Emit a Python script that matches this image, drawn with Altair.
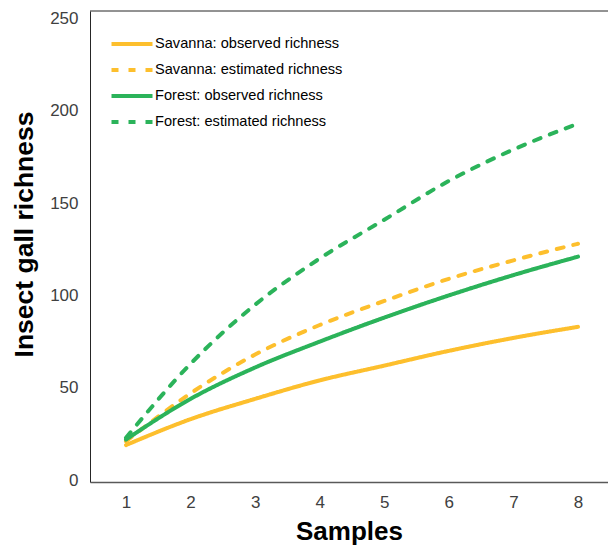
import altair as alt
import pandas as pd

samples = [1, 2, 3, 4, 5, 6, 7, 8]
savanna_observed = [19, 33, 44, 54, 62, 70, 77, 83]
savanna_estimated = [21, 47, 68, 84, 97, 109, 119, 128]
forest_observed = [22, 44, 61, 75, 88, 100, 111, 121]
forest_estimated = [23, 63, 95, 120, 141, 162, 179, 193]

series_names = [
    "Savanna: observed richness",
    "Savanna: estimated richness",
    "Forest: observed richness",
    "Forest: estimated richness",
]
series_values = [savanna_observed, savanna_estimated, forest_observed, forest_estimated]
series_colors = ["#FDBF2D", "#FDBF2D", "#2BB35A", "#2BB35A"]
series_dash = [[1, 0], [7, 10], [1, 0], [7, 10]]
y_ticks = [0, 50, 100, 150, 200, 250]
y_domain = [-1, 254]
x_domain = [0.4425, 8.4647]

rows = []
for name, vals in zip(series_names, series_values):
    for s, v in zip(samples, vals):
        rows.append({"series": name, "sample": s, "richness": v})
df = pd.DataFrame(rows)

FONT = "Liberation Sans"

legend_kwargs = dict(
    title=None,
    orient="none",
    legendX=30,
    legendY=21,
    symbolType="M-2.05,0L2.05,0",
    symbolSize=400,
    symbolStrokeWidth=4,
    labelFontSize=14.6,
    labelColor="#000000",
    labelFont=FONT,
    labelOffset=11,
    labelLimit=320,
    rowPadding=6,
    padding=0,
)

x_enc = alt.X(
    "sample:Q",
    scale=alt.Scale(domain=x_domain, nice=False, zero=False),
    axis=alt.Axis(
        values=samples,
        title="Samples",
        grid=False,
        ticks=False,
        domain=True,
        domainColor="#595959",
        domainWidth=1.5,
        labelFontSize=17,
        labelColor="#404040",
        labelPadding=12,
        titleFontSize=26,
        titleFontWeight="bold",
        titleColor="#000000",
        titleBaseline="alphabetic",
        titleY=57,
    ),
)

y_enc = alt.Y(
    "richness:Q",
    scale=alt.Scale(domain=y_domain, nice=False, zero=False),
    axis=alt.Axis(
        values=y_ticks,
        title="Insect gall richness",
        grid=False,
        ticks=False,
        domain=True,
        domainColor="#262626",
        domainWidth=1,
        labelFontSize=17,
        labelColor="#404040",
        labelPadding=12,
        titleFontSize=26.5,
        titleFontWeight="bold",
        titleColor="#000000",
        titleX=-58,
        titleY=223,
        titleBaseline="alphabetic",
    ),
)

lines = (
    alt.Chart(df)
    .mark_line(strokeWidth=4, strokeCap="round", strokeJoin="round", interpolate="monotone")
    .encode(
        x=x_enc,
        y=y_enc,
        color=alt.Color(
            "series:N",
            scale=alt.Scale(domain=series_names, range=series_colors),
            legend=alt.Legend(**legend_kwargs),
        ),
        strokeDash=alt.StrokeDash(
            "series:N",
            scale=alt.Scale(domain=series_names, range=series_dash),
            legend=alt.Legend(**legend_kwargs),
        ),
        order=alt.Order("sample:Q"),
    )
)

top_border = (
    alt.Chart(pd.DataFrame({"top": [y_domain[1]]}))
    .mark_rule(color="#262626", strokeWidth=1)
    .encode(y=alt.Y("top:Q"))
)

chart = (
    alt.layer(top_border, lines)
    .properties(
        width=518,
        height=471,
        autosize=alt.AutoSizeParams(type="none"),
        padding={"left": 82, "top": 3, "right": 0, "bottom": 64},
    )
    .configure(font=FONT, background="white")
    .configure_view(stroke=None)
)

chart.save("out.html", embed_options={"renderer": "svg", "actions": False})
